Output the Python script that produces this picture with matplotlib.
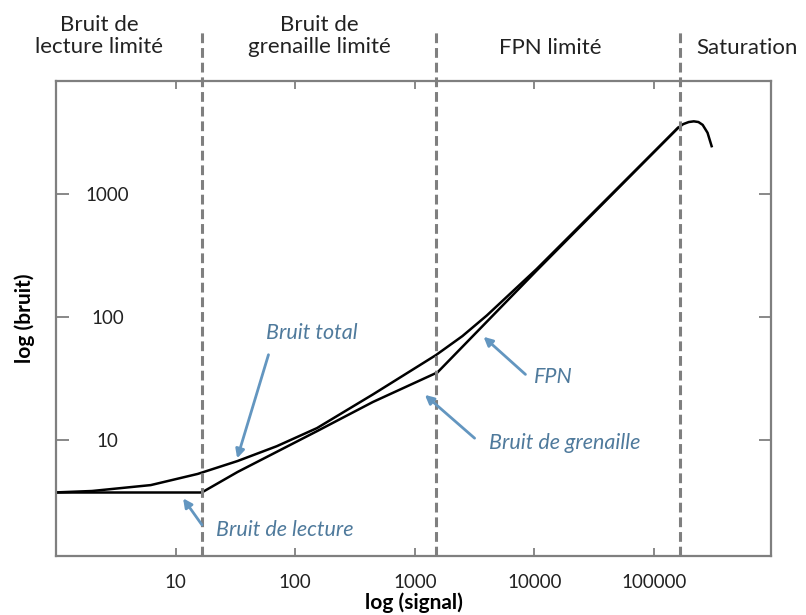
import matplotlib
matplotlib.use("Agg")
import matplotlib.pyplot as plt
from matplotlib.ticker import FixedLocator, FixedFormatter
from matplotlib.transforms import blended_transform_factory

plt.rcParams['font.family'] = ['Lato', 'DejaVu Sans']

# read noise (flat part)
read_x = [1, 16.6]
read_y = [3.75, 3.75]

# shot noise
shot_x = [16.6, 33, 152, 447, 1500]
shot_y = [3.75, 5.5, 11.8, 20.4, 35]

# fixed pattern noise + saturation roll-off
fpn_x = [1500, 10400, 158000, 175000, 195000, 215000, 235000, 255000, 280000, 303000]
fpn_y = [34.4, 238, 3440, 3700, 3850, 3900, 3850, 3650, 3150, 2450]

# total noise
total_x = [1, 2, 6.2, 15.3, 33, 70, 152, 447, 1500, 2500, 4000, 6500, 10400, 158000]
total_y = [3.75, 3.85, 4.3, 5.3, 6.75, 8.9, 12.5, 23.5, 49, 70, 103, 160, 245, 3440]

# region boundaries
bounds = [16.6, 1500, 165000]

xticks = [10, 100, 1000, 10000, 100000]
yticks = [10, 100, 1000]

regions = ["Bruit de\nlecture limité", "Bruit de\ngrenaille limité", "FPN limité", "Saturation"]
region_x = [2.3, 160, 13500, 600000]
region_y = [1.095, 1.095, 1.069, 1.069]

gray = '#7f7f7f'
txt_blue = '#4f7a9c'
arr_blue = '#6396c0'

fig = plt.figure(figsize=(8.06, 6.15), dpi=100)
ax = fig.add_axes([56/806, (615-556)/615, (771-56)/806, (556-81)/615])
ax.set_xscale('log')
ax.set_yscale('log')
ax.set_xlim(1, 9.5e5)
ax.set_ylim(1.14, 8300)

ax.plot(read_x, read_y, color='black', lw=1.8)
ax.plot(shot_x, shot_y, color='black', lw=1.8)
ax.plot(total_x, total_y, color='black', lw=1.8)
ax.plot(fpn_x, fpn_y, color='black', lw=1.8)

for b in bounds:
    ax.axvline(b, ymin=0, ymax=1.103, color=gray, lw=2.2, ls=(0, (3.2, 1.6)),
               clip_on=False, zorder=3)

for s in ax.spines.values():
    s.set_color(gray)
    s.set_linewidth(1.6)

ax.xaxis.set_major_locator(FixedLocator(xticks))
ax.xaxis.set_major_formatter(FixedFormatter([str(t) for t in xticks]))
ax.yaxis.set_major_locator(FixedLocator(yticks))
ax.yaxis.set_major_formatter(FixedFormatter([str(t) for t in yticks]))
ax.minorticks_off()
ax.tick_params(axis='x', which='major', direction='in', length=6, width=1.3,
               color=gray, top=True, labelsize=13.5, pad=13, labelcolor='#222222')
ax.tick_params(axis='y', which='major', direction='in', length=9, width=1.3,
               color=gray, right=True, labelsize=13.5, pad=-37, labelcolor='#222222')
for lab in ax.get_yticklabels():
    lab.set_horizontalalignment('center')

ax.set_xlabel('log (signal)', fontsize=15, fontweight='bold', labelpad=1)
ax.set_ylabel('log (bruit)', fontsize=15, fontweight='bold', labelpad=15)

trans = blended_transform_factory(ax.transData, ax.transAxes)
for name, rx, ry in zip(regions, region_x, region_y):
    ax.text(rx, ry, name, transform=trans, ha='center', va='center',
            fontsize=16, color='#222222', linespacing=1.15)

# labels with arrows
arrow = dict(arrowstyle='-|>', color=arr_blue, lw=2, mutation_scale=13)

ax.text(138, 74, 'Bruit total', style='italic', fontsize=15.5, color=txt_blue,
        ha='center', va='center')
ax.annotate('', xy=(32.2, 6.75), xytext=(60.7, 51.9), arrowprops=arrow)

ax.text(14400, 32.5, 'FPN', style='italic', fontsize=15.5, color=txt_blue,
        ha='center', va='center')
ax.annotate('', xy=(3610, 71.5), xytext=(8750, 33), arrowprops=arrow)

ax.text(17800, 9.46, 'Bruit de grenaille', style='italic', fontsize=15.5, color=txt_blue,
        ha='center', va='center')
ax.annotate('', xy=(1166, 24.1), xytext=(3290, 10), arrowprops=arrow)

ax.text(81, 1.85, 'Bruit de lecture', style='italic', fontsize=15.5, color=txt_blue,
        ha='center', va='center')
ax.annotate('', xy=(11.2, 3.5), xytext=(17.1, 1.96), arrowprops=arrow)

fig.savefig('out.png', dpi=100)
